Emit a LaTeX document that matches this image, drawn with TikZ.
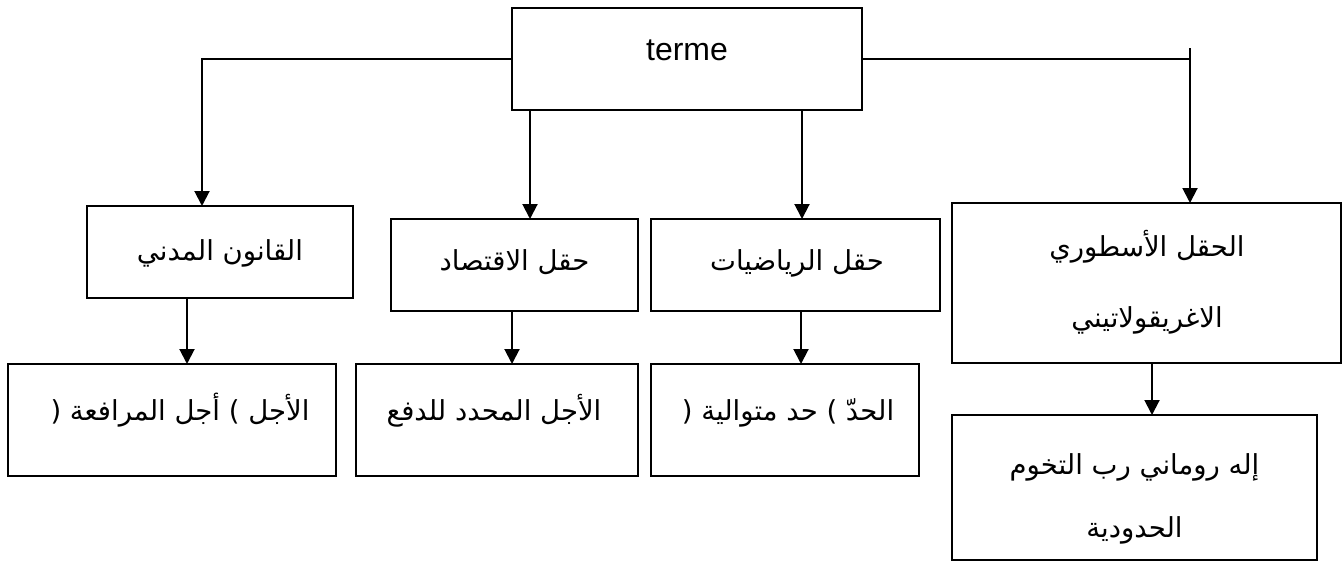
\documentclass[tikz,border=0pt]{standalone}
\usepackage{fontspec}
\setmainfont{Liberation Sans}
\newfontfamily\arabicfont[Script=Arabic]{DejaVu Sans}
\TeXXeTstate=1
\usetikzlibrary{arrows.meta}

\begin{document}
\begin{tikzpicture}[x=1pt,y=-1pt,
  box/.style={draw,line width=2pt,inner sep=0pt,outer sep=0pt},
  lbl/.style={anchor=base,inner sep=0pt,font=\arabicfont\fontsize{27.5}{32}\selectfont},
  latin/.style={anchor=base,inner sep=0pt,font=\fontsize{32}{36}\selectfont},
  link/.style={line width=2pt},
  arr/.style={line width=2pt,-{Triangle[width=15pt,length=15pt]}}]
\useasboundingbox (0,0) rectangle (1343,562);

% boxes
\node[box,minimum width=350pt,minimum height=102pt] (top)  at (687,59) {};
\node[box,minimum width=266pt,minimum height=92pt]  (civ)  at (220,252) {};
\node[box,minimum width=247pt,minimum height=92pt]  (eco)  at (514.5,265) {};
\node[box,minimum width=289pt,minimum height=92pt]  (math) at (795.5,265) {};
\node[box,minimum width=389pt,minimum height=160pt] (myth) at (1146.5,283) {};
\node[box,minimum width=328pt,minimum height=112pt] (ajal) at (172,420) {};
\node[box,minimum width=282pt,minimum height=112pt] (pay)  at (497,420) {};
\node[box,minimum width=268pt,minimum height=112pt] (hadd) at (785,420) {};
\node[box,minimum width=365pt,minimum height=145pt] (god)  at (1134.5,487.5) {};

% labels
\node[latin] (tTop) at (687,60) {terme};
\node[lbl] (tCiv)  at (220,260) {\beginR القانون المدني\endR};
\node[lbl] (tEco)  at (514.5,270) {\beginR حقل الاقتصاد\endR};
\node[lbl] (tMath) at (797,270) {\beginR حقل الرياضيات\endR};
\node[lbl] (tMyA)  at (1147,256) {\beginR الحقل الأسطوري\endR};
\node[lbl] (tMyB)  at (1147,327) {\beginR الاغريقولاتيني\endR};
\node[lbl] (tAjal) at (180,420) {\beginR الأجل ) أجل المرافعة (\endR};
\node[lbl] (tPay)  at (494,420) {\beginR الأجل المحدد للدفع\endR};
\node[lbl] (tHadd) at (788,420) {\beginR الحدّ ) حد متوالية (\endR};
\node[lbl] (tGodA) at (1134.5,474) {\beginR إله روماني رب التخوم\endR};
\node[lbl] (tGodB) at (1134.5,537) {\beginR الحدودية\endR};

% x positions of the vertical connectors
\coordinate (jL) at (202,0);
\coordinate (jR) at (1190,0);
\coordinate (jRtop) at (1190,48);
\coordinate (c2) at (530,0);
\coordinate (c3) at (802,0);
\coordinate (d1) at (187,0);
\coordinate (d2) at (512,0);
\coordinate (d3) at (801,0);
\coordinate (d4) at (1152,0);

% connectors
\draw[arr] (top.west) -| (jL |- civ.north);
\draw[arr] (c2 |- top.south) -- (c2 |- eco.north);
\draw[arr] (c3 |- top.south) -- (c3 |- math.north);
\draw[link] (top.east) -- (top.east -| jR);
\draw[arr] (jRtop) -- (jRtop |- myth.north);

\draw[arr] (d1 |- civ.south) -- (d1 |- ajal.north);
\draw[arr] (d2 |- eco.south) -- (d2 |- pay.north);
\draw[arr] (d3 |- math.south) -- (d3 |- hadd.north);
\draw[arr] (d4 |- myth.south) -- (d4 |- god.north);
\end{tikzpicture}
\end{document}
